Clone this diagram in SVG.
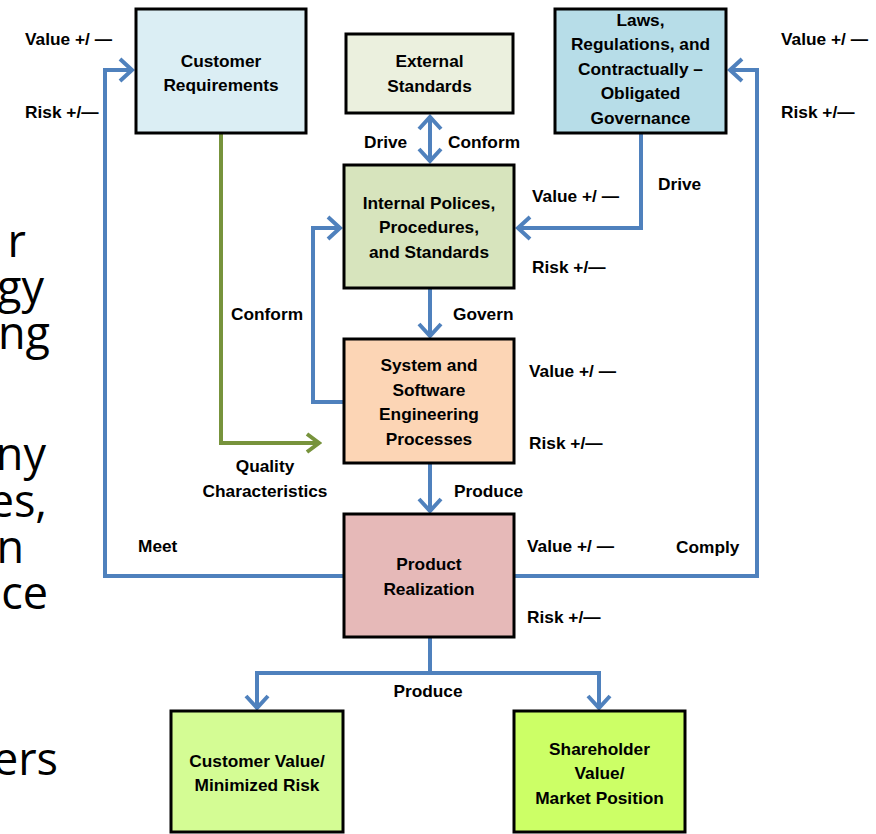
<svg xmlns="http://www.w3.org/2000/svg" width="876" height="834" viewBox="0 0 876 834">
<style>
.box{stroke:#000;stroke-width:3}
.nt{font-family:"Liberation Sans",Arial,sans-serif;font-weight:bold;font-size:17.3px;text-anchor:middle;fill:#000}
.lb{font-family:"Liberation Sans",Arial,sans-serif;font-weight:bold;font-size:17.3px;fill:#000}
.big{font-family:"Open Sans","DejaVu Sans",sans-serif;font-size:45px;text-anchor:end;fill:#000}
.bl{fill:none;stroke:#4F81BD;stroke-width:4}
.gr{fill:none;stroke:#77933C;stroke-width:4}
</style>
<defs>
<marker id="ab" markerUnits="userSpaceOnUse" viewBox="-16 -14 19 28" refX="0" refY="0" markerWidth="19" markerHeight="28" orient="auto-start-reverse">
<path d="M-12,-11 L0,0 L-12,11" fill="none" stroke="#4F81BD" stroke-width="4"/>
</marker>
<marker id="ag" markerUnits="userSpaceOnUse" viewBox="-16 -14 19 28" refX="0" refY="0" markerWidth="19" markerHeight="28" orient="auto">
<path d="M-12,-9 L0,0 L-12,9" fill="none" stroke="#77933C" stroke-width="4"/>
</marker>
</defs>
<rect width="876" height="834" fill="#fff"/>

<g id="side-text">
<text class="big" x="26" y="257">r</text>
<text class="big" x="44" y="303">gy</text>
<text class="big" x="50" y="349">ng</text>
<text class="big" x="46" y="470">ny</text>
<text class="big" x="47" y="517">es,</text>
<text class="big" x="24" y="563">n</text>
<text class="big" x="48" y="609">ce</text>
<text class="big" x="58" y="775">ers</text>
</g>

<g id="connectors">
<line class="bl" x1="430" y1="117" x2="430" y2="161" marker-start="url(#ab)" marker-end="url(#ab)"/>
<path class="bl" d="M641,134 V228 H518" marker-end="url(#ab)"/>
<path class="bl" d="M430,289 V336" marker-end="url(#ab)"/>
<path class="bl" d="M343,402 H313 V228 H340" marker-end="url(#ab)"/>
<path class="bl" d="M430,464 V511" marker-end="url(#ab)"/>
<path class="bl" d="M343,576 H105 V70 H132" marker-end="url(#ab)"/>
<path class="bl" d="M515,576 H757 V70 H730" marker-end="url(#ab)"/>
<path class="bl" d="M430,638 V673"/>
<path class="bl" d="M430,673 H257 V708" marker-end="url(#ab)"/>
<path class="bl" d="M430,673 H599 V708" marker-end="url(#ab)"/>
<path class="gr" d="M221,134 V443 H319" marker-end="url(#ag)"/>
</g>

<g id="labels">
<text class="lb" x="25" y="45">Value +/ —</text>
<text class="lb" x="25" y="118">Risk +/—</text>
<text class="lb" x="781" y="45">Value +/ —</text>
<text class="lb" x="781" y="118">Risk +/—</text>
<text class="lb" x="364" y="148">Drive</text>
<text class="lb" x="448" y="148">Conform</text>
<text class="lb" x="658" y="190">Drive</text>
<text class="lb" x="532" y="202">Value +/ —</text>
<text class="lb" x="532" y="273">Risk +/—</text>
<text class="lb" x="231" y="320">Conform</text>
<text class="lb" x="453" y="320">Govern</text>
<text class="lb" x="529" y="377">Value +/ —</text>
<text class="lb" x="529" y="449">Risk +/—</text>
<text class="nt" x="265" y="472">Quality</text>
<text class="nt" x="265" y="497">Characteristics</text>
<text class="lb" x="454" y="497">Produce</text>
<text class="lb" x="138" y="552">Meet</text>
<text class="lb" x="527" y="552">Value +/ —</text>
<text class="lb" x="676" y="553">Comply</text>
<text class="lb" x="527" y="623">Risk +/—</text>
<text class="nt" x="428" y="697">Produce</text>
</g>

<g id="customer-requirements">
<rect class="box" x="136" y="9" width="170" height="124" fill="#DBEEF4"/>
<text class="nt" x="221" y="67">Customer</text>
<text class="nt" x="221" y="91">Requirements</text>
</g>
<g id="external-standards">
<rect class="box" x="346" y="34" width="167" height="79" fill="#EBF0DE"/>
<text class="nt" x="429.5" y="67">External</text>
<text class="nt" x="429.5" y="92">Standards</text>
</g>
<g id="laws">
<rect class="box" x="555" y="9" width="171" height="124" fill="#B7DDE8"/>
<text class="nt" x="640.5" y="26">Laws,</text>
<text class="nt" x="640.5" y="50">Regulations, and</text>
<text class="nt" x="640.5" y="75">Contractually –</text>
<text class="nt" x="640.5" y="99">Obligated</text>
<text class="nt" x="640.5" y="124">Governance</text>
</g>
<g id="internal-policies">
<rect class="box" x="344" y="165" width="170" height="123" fill="#D7E4BD"/>
<text class="nt" x="429" y="209">Internal Polices,</text>
<text class="nt" x="429" y="233">Procedures,</text>
<text class="nt" x="429" y="258">and Standards</text>
</g>
<g id="system-processes">
<rect class="box" x="344" y="339" width="170" height="124" fill="#FCD5B5"/>
<text class="nt" x="429" y="371">System and</text>
<text class="nt" x="429" y="396">Software</text>
<text class="nt" x="429" y="420">Engineering</text>
<text class="nt" x="429" y="445">Processes</text>
</g>
<g id="product-realization">
<rect class="box" x="344" y="514" width="170" height="123" fill="#E6B9B8"/>
<text class="nt" x="429" y="570">Product</text>
<text class="nt" x="429" y="595">Realization</text>
</g>
<g id="customer-value">
<rect class="box" x="171" y="711" width="172" height="121" fill="#D4FC94"/>
<text class="nt" x="257" y="767">Customer Value/</text>
<text class="nt" x="257" y="791">Minimized Risk</text>
</g>
<g id="shareholder-value">
<rect class="box" x="514" y="711" width="171" height="121" fill="#CCFF66"/>
<text class="nt" x="599.5" y="755">Shareholder</text>
<text class="nt" x="599.5" y="779">Value/</text>
<text class="nt" x="599.5" y="804">Market Position</text>
</g>
</svg>
